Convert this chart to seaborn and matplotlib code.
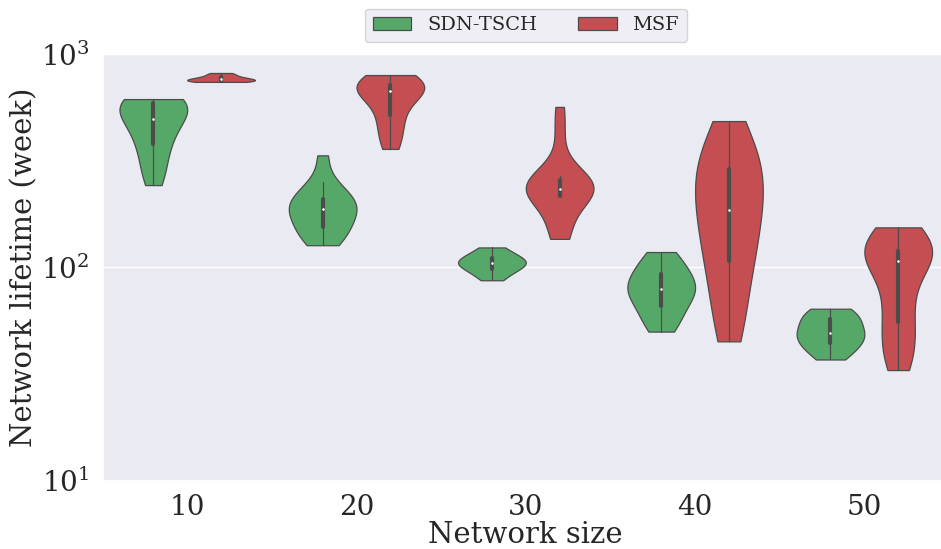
import pandas as pd
import numpy as np
import matplotlib.pyplot as plt
import seaborn as sns

# lifetime samples (weeks) per network size
sizes = [10, 20, 30, 40, 50]
protocols = ["SDN-TSCH", "MSF"]

sdn_10 = [243, 275, 310, 345, 380, 410, 440, 470, 495, 520, 545, 570, 590, 600, 608, 612, 615]
sdn_20 = [127, 135, 145, 150, 160, 170, 180, 188, 195, 200, 205, 215, 235, 251, 335]
sdn_30 = [87, 93, 97, 100, 103, 105, 107, 110, 112, 118, 124]
sdn_40 = [50, 55, 60, 65, 70, 75, 78, 80, 83, 88, 95, 100, 108, 118]
sdn_50 = [37, 40, 42, 44, 46, 48, 49, 51, 54, 57, 59, 62, 64]

msf_10 = [740, 742, 745, 750, 755, 760, 764, 770, 778, 790, 805, 815]
msf_20 = [359, 400, 450, 495, 540, 600, 650, 671, 690, 700, 708, 720, 740, 770, 797]
msf_30 = [136, 148, 160, 214, 218, 222, 226, 230, 235, 240, 248, 256, 262, 268, 420, 565]
msf_40 = [45, 55, 68, 85, 105, 115, 130, 150, 175, 196, 210, 230, 260, 300, 330,
          340, 370, 485]
msf_50 = [33, 35, 38, 41, 44, 48, 52, 57, 62, 68, 75, 83, 92, 104, 110, 113, 115,
          116, 117, 118, 119, 121, 125, 130, 136, 142, 148, 154]

sdn_all = [sdn_10, sdn_20, sdn_30, sdn_40, sdn_50]
msf_all = [msf_10, msf_20, msf_30, msf_40, msf_50]

rows = []
for size, sdn, msf in zip(sizes, sdn_all, msf_all):
    for v in sdn:
        rows.append((size, "SDN-TSCH", v))
    for v in msf:
        rows.append((size, "MSF", v))
df = pd.DataFrame(rows, columns=["size", "protocol", "lifetime"])

sns.set_theme(style="darkgrid")
plt.rcParams["font.family"] = ["DejaVu Serif"]
plt.rcParams["mathtext.fontset"] = "dejavuserif"

deep = sns.color_palette("deep")
colors = [deep[2], deep[3]]

fig = plt.figure(figsize=(9.41, 5.49), dpi=100)
ax = fig.add_axes([0.109, 0.1244, 0.8995, 0.7772])

sns.violinplot(data=df, x="size", y="lifetime", hue="protocol", hue_order=protocols,
               palette=colors, saturation=1, cut=0, density_norm="width",
               log_scale=True, linewidth=0.9,
               inner_kws=dict(box_width=3, whis_width=0.9, marker="o", markersize=1.2),
               ax=ax)

ax.set_ylim(10, 1000)
ax.set_xlabel("Network size", fontsize=21, labelpad=0)
ax.set_ylabel("Network lifetime (week)", fontsize=21, labelpad=2)
ax.tick_params(axis="both", labelsize=20)

ax.legend(loc="lower center", bbox_to_anchor=(0.5, 1.005), ncol=2, fontsize=14,
          frameon=True, columnspacing=2.1)

plt.savefig("out.png", dpi=100)
